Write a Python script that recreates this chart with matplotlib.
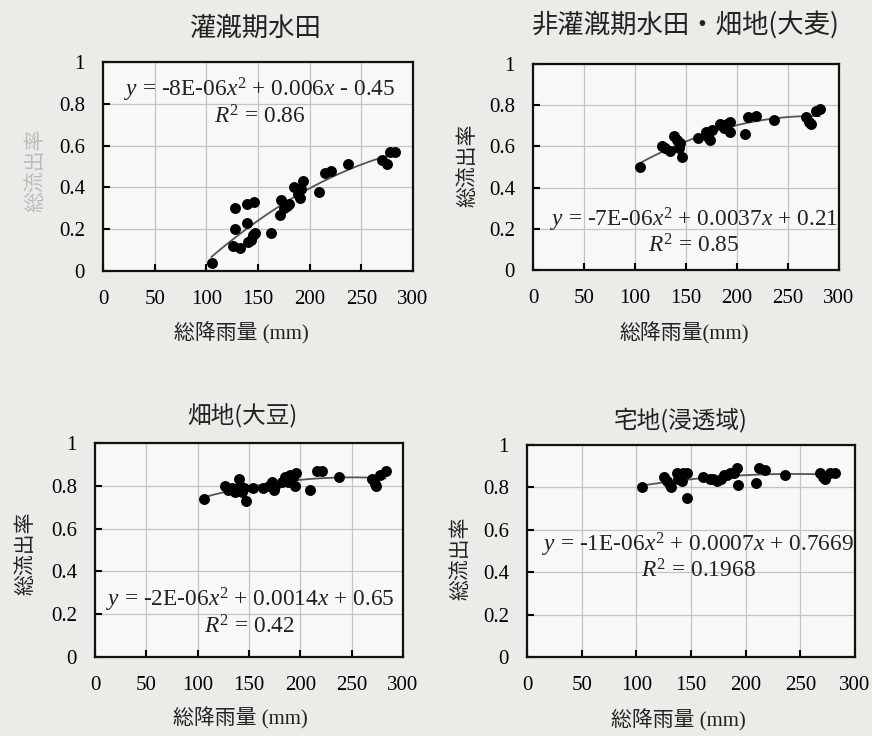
import numpy as np
import matplotlib
matplotlib.use("Agg")
import matplotlib.pyplot as plt

plt.rcParams['font.family'] = ['Liberation Serif', 'Noto Sans CJK JP']
plt.rcParams['mathtext.fontset'] = 'custom'
plt.rcParams['mathtext.rm'] = 'Liberation Serif'
plt.rcParams['mathtext.it'] = 'Liberation Serif:italic'

# ---- data ----
titles = ["灌漑期水田", "非灌漑期水田・畑地(大麦)", "畑地(大豆)", "宅地(浸透域)"]
xlabels = ["総降雨量 (mm)", "総降雨量(mm)", "総降雨量 (mm)", "総降雨量 (mm)"]
ylabel = "総流出率"
xticks = [0, 50, 100, 150, 200, 250, 300]
yticks = [0, 0.2, 0.4, 0.6, 0.8, 1.0]
yticklabels = ["0", "0.2", "0.4", "0.6", "0.8", "1"]

x1 = [105, 126, 128, 128, 133, 139, 139, 140, 143, 145, 146, 147, 163, 171, 172,
      175, 178, 180, 185, 189, 191, 192, 194, 209, 215, 221, 237, 270, 275, 278, 283]
y1 = [0.04, 0.12, 0.30, 0.20, 0.11, 0.32, 0.23, 0.14, 0.15, 0.17, 0.33, 0.18, 0.18, 0.27, 0.34,
      0.30, 0.31, 0.32, 0.40, 0.37, 0.35, 0.39, 0.43, 0.38, 0.47, 0.48, 0.51, 0.53, 0.51, 0.57, 0.57]

x2 = [105, 126, 129, 134, 138, 141, 144, 143, 146, 162, 170, 172, 174, 175, 183,
      187, 190, 193, 193, 208, 211, 219, 236, 268, 271, 273, 277, 281]
y2 = [0.50, 0.60, 0.59, 0.58, 0.65, 0.63, 0.615, 0.59, 0.55, 0.64, 0.67, 0.645, 0.63, 0.68, 0.71,
      0.69, 0.71, 0.72, 0.67, 0.66, 0.745, 0.75, 0.73, 0.745, 0.72, 0.71, 0.77, 0.78]

x3 = [106, 127, 130, 133, 136, 140, 141, 145, 143, 147, 154, 164, 169, 172, 174, 175,
      182, 185, 188, 190, 193, 195, 196, 209, 216, 221, 238, 270, 273, 274, 278, 283]
y3 = [0.74, 0.80, 0.78, 0.79, 0.77, 0.83, 0.80, 0.79, 0.77, 0.73, 0.79, 0.79, 0.80, 0.82, 0.78, 0.80,
      0.82, 0.84, 0.82, 0.85, 0.84, 0.80, 0.86, 0.78, 0.87, 0.87, 0.84, 0.83, 0.81, 0.80, 0.85, 0.87]

x4 = [105, 125, 128, 131, 132, 137, 138, 142, 143, 146, 146, 161, 167, 170, 174, 177,
      180, 183, 186, 189, 192, 193, 209, 212, 218, 236, 268, 271, 273, 277, 282]
y4 = [0.80, 0.85, 0.83, 0.81, 0.80, 0.87, 0.84, 0.83, 0.87, 0.87, 0.75, 0.85, 0.84, 0.84, 0.83, 0.84,
      0.86, 0.86, 0.87, 0.87, 0.89, 0.81, 0.82, 0.89, 0.88, 0.86, 0.87, 0.85, 0.84, 0.87, 0.87]

eq_texts = [
    (r"$y$ = -8E-06$x^2$ + 0.006$x$ - 0.45", r"$R^2$ = 0.86"),
    (r"$y$ = -7E-06$x^2$ + 0.0037$x$ + 0.21", r"$R^2$ = 0.85"),
    (r"$y$ = -2E-06$x^2$ + 0.0014$x$ + 0.65", r"$R^2$ = 0.42"),
    (r"$y$ = -1E-06$x^2$ + 0.0007$x$ + 0.7669", r"$R^2$ = 0.1968"),
]

# ---- layout (pixels in 872x736 figure) ----
W, H = 872, 736
boxes = [(103, 62, 413, 271), (533, 64, 839, 270), (95, 443, 403, 657), (527, 445, 855, 657)]
title_pos = [(255, 28), (686, 25), (242, 415), (681, 420)]
title_size = [19, 19, 17, 17]
xlabel_pos = [(241, 333), (684, 333), (240, 718), (678, 720)]
ylabel_pos = [(35, 170), (467, 165), (25, 553), (460, 558)]
eq_pos = [((260, 90), (260, 117)), ((694, 220), (694, 246)),
          ((250, 600), (250, 627)), ((698, 545), (698, 571))]

fig = plt.figure(figsize=(W / 100, H / 100), dpi=100)
fig.patch.set_facecolor('#ebebe8')

def fx(px):
    return px / W

def fy(py):
    return 1 - py / H

datasets = [(x1, y1), (x2, y2), (x3, y3), (x4, y4)]
for i, ((xs, ys), (l, t, r, b)) in enumerate(zip(datasets, boxes)):
    ax = fig.add_axes([fx(l), fy(b), (r - l) / W, (b - t) / H])
    ax.set_facecolor('#f8f8f6')
    ax.set_xlim(0, 300)
    ax.set_ylim(0, 1)
    ax.set_xticks(xticks)
    ax.set_yticks(yticks)
    ax.set_yticklabels(yticklabels)
    ax.grid(True, color='#c4c4c2', linewidth=0.9)
    ax.set_axisbelow(True)
    ax.tick_params(direction='in', length=5, width=1.5, labelsize=15, pad=13, colors='black')
    ax.tick_params(axis='x', pad=14)
    for s in ax.spines.values():
        s.set_linewidth(1.6)
        s.set_color('#111111')
    xa = np.array(xs, dtype=float)
    ya = np.array(ys, dtype=float)
    coef = np.polyfit(xa, ya, 2)
    xx = np.linspace(xa.min(), xa.max(), 200)
    ax.plot(xx, np.polyval(coef, xx), color='#555555', linewidth=1.3, zorder=2)
    ax.scatter(xa, ya, s=62, color='black', zorder=3, linewidths=0)

    (e1x, e1y), (e2x, e2y) = eq_pos[i]
    fig.text(fx(e1x), fy(e1y), eq_texts[i][0], ha='center', va='center', fontsize=16.8, color='#222222')
    fig.text(fx(e2x), fy(e2y), eq_texts[i][1], ha='center', va='center', fontsize=16.8, color='#222222')

    tx, ty = title_pos[i]
    fig.text(fx(tx), fy(ty), titles[i], ha='center', va='center', fontsize=title_size[i],
             family=['Noto Sans CJK JP'], color='#222222')
    lx, ly = xlabel_pos[i]
    fig.text(fx(lx), fy(ly), xlabels[i], ha='center', va='center', fontsize=15,
             family=['Liberation Serif', 'Noto Sans CJK JP'], color='#222222')
    yx, yy = ylabel_pos[i]
    fig.text(fx(yx), fy(yy), ylabel, ha='center', va='center', fontsize=15, rotation=90,
             family=['Noto Sans CJK JP'], color='#bbbbbb' if i == 0 else '#222222')

fig.savefig("out.png", dpi=100, facecolor=fig.get_facecolor())
